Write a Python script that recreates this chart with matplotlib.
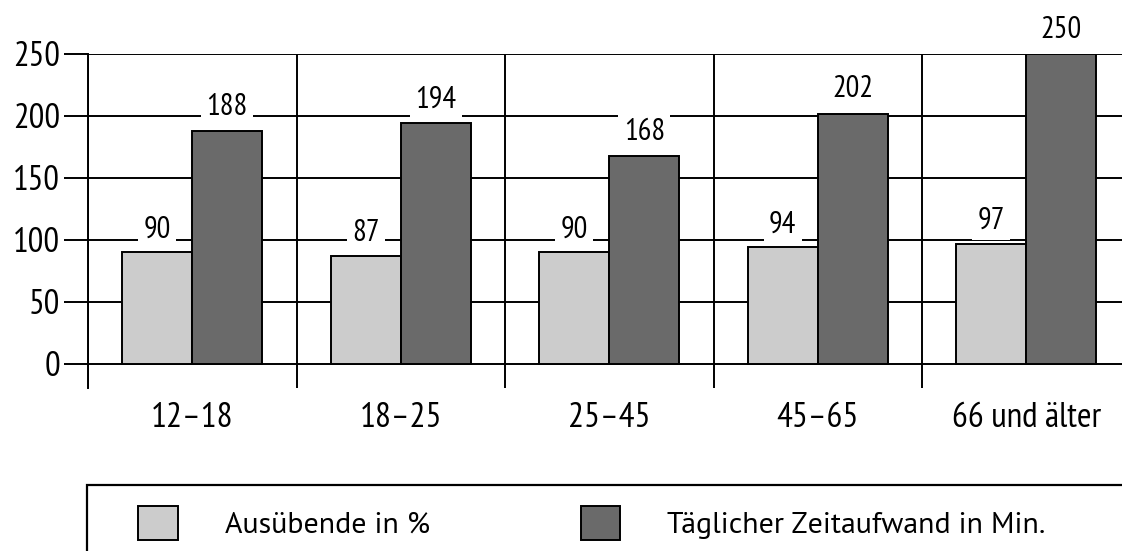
import numpy as np
import matplotlib
matplotlib.use("Agg")
import matplotlib.pyplot as plt
from matplotlib.patches import Patch, Rectangle

# Altersgruppen und Werte
groups = ["12–18", "18–25", "25–45", "45–65", "66 und älter"]
ausuebende = [90, 87, 90, 94, 97]
zeitaufwand = [188, 194, 168, 202, 250]
yticks = [0, 50, 100, 150, 200, 250]
legend_labels = ["Ausübende in %", "Täglicher Zeitaufwand in Min."]

light = "#cccccc"
dark = "#6a6a6a"
W, H = 1122, 551


def main():
    plt.rcParams['font.family'] = ['PT Sans Narrow', 'DejaVu Sans']
    fig = plt.figure(figsize=(W / 100, H / 100), dpi=100)
    fig.patch.set_facecolor("white")
    # axes: links bei 88 px, unten bei 388 px, oben bei 54 px
    ax = fig.add_axes([88 / W, 1 - 388 / H, 1 - 88 / W, (388 - 54) / H])

    x = np.arange(len(groups))
    w = 70 / 208.5
    ax.bar(x - w / 2, ausuebende, w, color=light, edgecolor="black", linewidth=1.4, zorder=3)
    ax.bar(x + w / 2, zeitaufwand, w, color=dark, edgecolor="black", linewidth=1.4, zorder=3)

    for xi, v in zip(x - w / 2, ausuebende):
        ax.text(xi, v + 12, str(v), ha="center", va="baseline", fontsize=22, zorder=4,
                bbox=dict(facecolor="white", edgecolor="none", pad=4), clip_on=False)
    for xi, v in zip(x + w / 2, zeitaufwand):
        ax.text(xi, v + 13, str(v), ha="center", va="baseline", fontsize=22, zorder=4,
                bbox=dict(facecolor="white", edgecolor="none", pad=4), clip_on=False)

    ax.set_xlim(-0.5, -0.5 + (W - 88) / 208.5)
    ax.set_ylim(-19.4, 250)

    ax.set_yticks(yticks)
    ax.set_xticks(x)
    ax.set_xticklabels(groups)
    ax.set_xticks(x - 0.5, minor=True)

    ax.yaxis.grid(True, color="black", linewidth=1.4)
    ax.xaxis.grid(True, which="minor", color="black", linewidth=1.4)
    ax.xaxis.grid(False, which="major")
    ax.set_axisbelow(True)

    for s in ["top", "right", "bottom"]:
        ax.spines[s].set_visible(False)
    ax.spines["left"].set_linewidth(1.4)

    ax.tick_params(axis="y", direction="out", length=17, width=1.4, pad=3, labelsize=25)
    ax.tick_params(axis="x", which="both", length=0, pad=10, labelsize=25.5)

    # Legende
    handles = [Patch(facecolor=light, edgecolor="black", linewidth=1.4),
               Patch(facecolor=dark, edgecolor="black", linewidth=1.4)]
    fig.legend(handles, legend_labels, ncol=2, frameon=False,
               prop=dict(family=['PT Sans', 'DejaVu Sans'], size=21.5),
               loc="center left", bbox_to_anchor=(138 / W, 1 - 523 / H),
               borderpad=0, borderaxespad=0, handlelength=1.33, handleheight=1.33,
               handletextpad=1.57, columnspacing=5.05)
    fig.add_artist(Rectangle((87 / W, -0.1), 1.0, 0.1 + (551 - 485) / H, fill=False,
                             edgecolor="black", linewidth=1.6, transform=fig.transFigure))

    fig.savefig("out.png", dpi=100)


if __name__ == '__main__':
    main()
